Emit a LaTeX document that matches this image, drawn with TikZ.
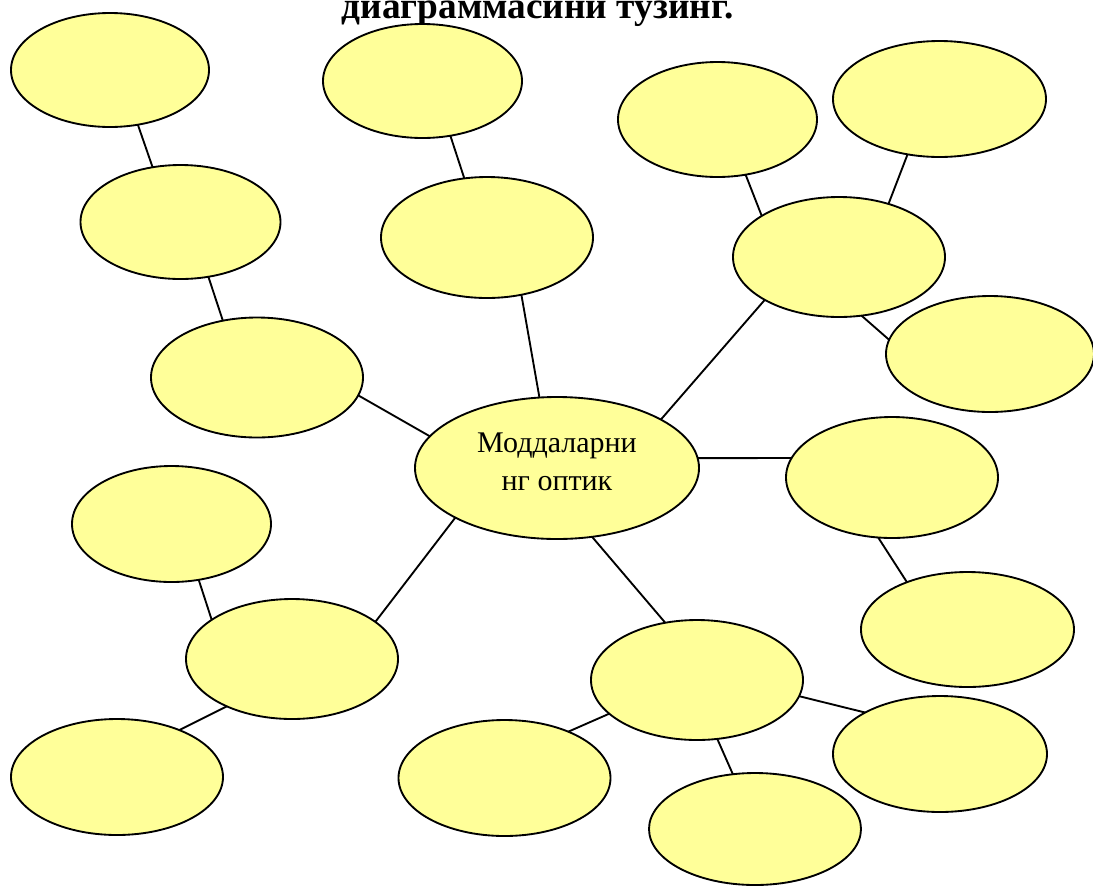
\documentclass[tikz,border=0pt]{standalone}
\usepackage{fontspec}
\setmainfont{Liberation Serif}
\usetikzlibrary{shapes.geometric}
\definecolor{bubblefill}{HTML}{FFFF99}
\tikzset{
  bubble/.style 2 args={ellipse, draw=black, line width=1.4pt, fill=bubblefill,
    inner sep=0pt, outer sep=0pt, minimum width=#1*1.5pt, minimum height=#2*1.5pt},
  link/.style={draw=black, line width=1.4pt},
}
\begin{document}
\begin{tikzpicture}[x=0.75pt, y=-0.75pt]
\useasboundingbox (0,0) rectangle (1093,886);
\node[font=\bfseries\fontsize{28}{32}\selectfont, anchor=base] (title) at (537.5,18) {диаграммасини тузинг.};

\node[bubble={99}{57}]      (n1)  at (110,70) {};
\node[bubble={99.5}{57}]    (n2)  at (422.5,81) {};
\node[bubble={99.5}{57.5}]  (n3)  at (717.5,119.5) {};
\node[bubble={106.5}{58}]   (n4)  at (939.5,99) {};
\node[bubble={100}{57}]     (n5)  at (180.5,222) {};
\node[bubble={106}{60.5}]   (n6)  at (487,237.5) {};
\node[bubble={106}{60}]     (n7)  at (839,257) {};
\node[bubble={106}{60}]     (n8)  at (257,377.5) {};
\node[bubble={104}{58}]     (n9)  at (990,354) {};
\node[bubble={142}{71},
  label={[font=\fontsize{22.5}{28.5}\selectfont, align=center, yshift=4.5pt]center:Моддаларни\\нг оптик}]
                            (c)   at (557,468) {};
\node[bubble={106}{60.5}]   (n11) at (892,477.5) {};
\node[bubble={99.5}{58}]    (n12) at (171.5,524) {};
\node[bubble={106.5}{57.5}] (n13) at (967.5,629.5) {};
\node[bubble={106}{60}]     (n14) at (292,659) {};
\node[bubble={106}{60}]     (n15) at (697,680) {};
\node[bubble={106}{58}]     (n16) at (117,777) {};
\node[bubble={106}{58}]     (n17) at (504.5,778) {};
\node[bubble={107}{58}]     (n18) at (940,754) {};
\node[bubble={106}{56}]     (n19) at (755,829) {};

\draw[link] (n1.-63.4) -- (n5.117.8);
\draw[link] (n5.-63.0) -- (n8.121.2);
\draw[link] (n8.-10.4) -- (c.166.4);
\draw[link] (n2.-63.4) -- (n6.111.6);
\draw[link] (n6.-59.5) -- (c.104.2);
\draw[link] (n3.-63.2) -- (n7.152.3);
\draw[link] (n4.-120.9) -- (n7.47.3);
\draw[link] (n7.-69.9) -- (n9.172.8);
\draw[link] (n7.-150.3) -- (c.25.3);
\draw[link] (c.4.0) -- (n11.169.5);
\draw[link] (n11.-103.9) -- (n13.142.3);
\draw[link] (c.-154.5) -- (n14.24.2);
\draw[link] (n12.-64.2) -- (n14.154.0);
\draw[link] (n14.-144.1) -- (n16.37.3);
\draw[link] (c.-63.4) -- (n15.119.5);
\draw[link] (n15.-159.6) -- (n17.36.4);
\draw[link] (n15.-9.8) -- (n18.151.7);
\draw[link] (n15.-71.6) -- (n19.112);
\end{tikzpicture}
\end{document}
